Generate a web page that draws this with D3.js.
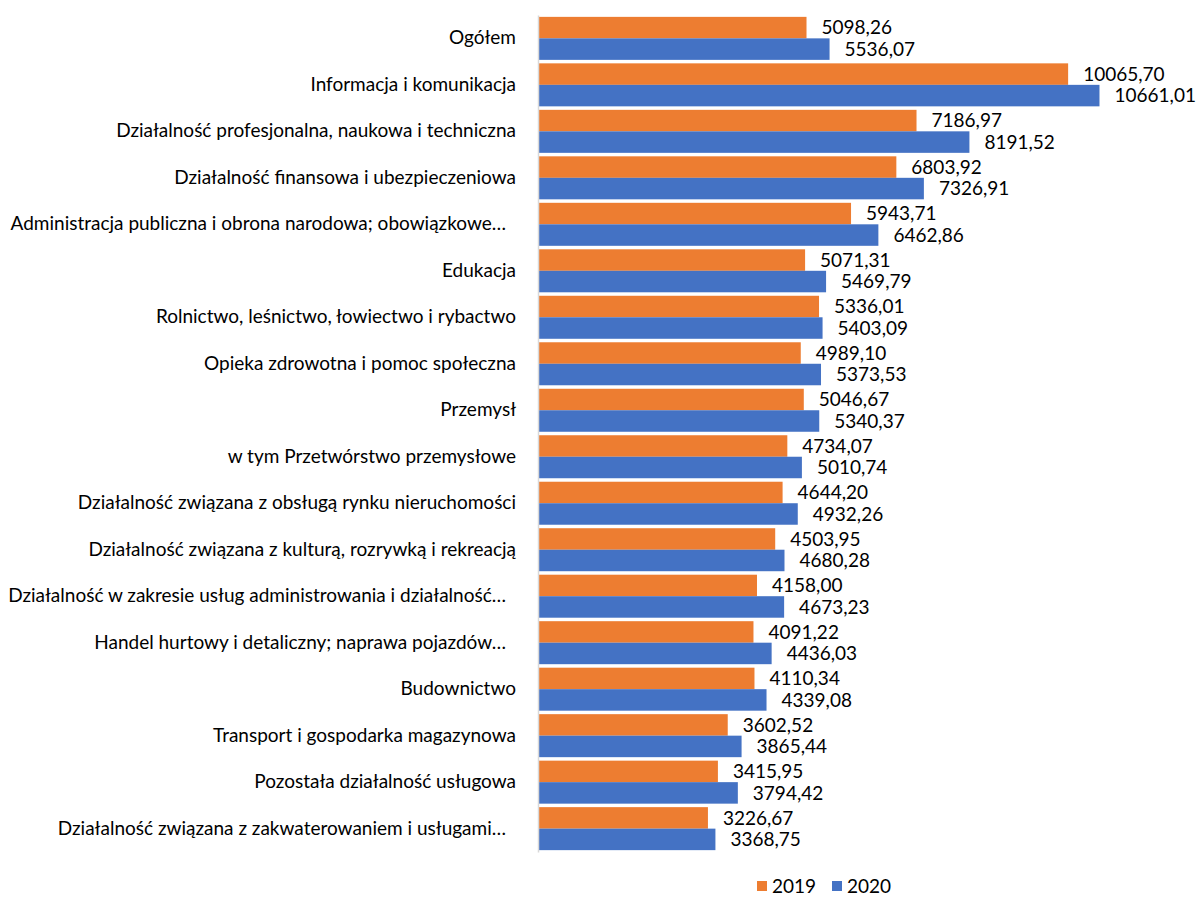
<!DOCTYPE html>
<html><head><meta charset="utf-8">
<script src="https://cdn.jsdelivr.net/npm/d3@7"></script>
<style>body{margin:0;background:#fff}svg{display:block}text{font-family:Lato,"Noto Sans",sans-serif;fill:#000}</style>
</head><body><svg id="c" width="1196" height="897"></svg>
<script>
const categories = [
 "Ogółem","Informacja i komunikacja","Działalność profesjonalna, naukowa i techniczna",
 "Działalność finansowa i ubezpieczeniowa","Administracja publiczna i obrona narodowa; obowiązkowe…",
 "Edukacja","Rolnictwo, leśnictwo, łowiectwo i rybactwo","Opieka zdrowotna i pomoc społeczna",
 "Przemysł","w tym Przetwórstwo przemysłowe","Działalność związana z obsługą rynku nieruchomości",
 "Działalność związana z kulturą, rozrywką i rekreacją","Działalność w zakresie usług administrowania i działalność…",
 "Handel hurtowy i detaliczny; naprawa pojazdów…","Budownictwo","Transport i gospodarka magazynowa",
 "Pozostała działalność usługowa","Działalność związana z zakwaterowaniem i usługami…"];
const values2019 = [5098.26,10065.70,7186.97,6803.92,5943.71,5071.31,5336.01,4989.10,5046.67,4734.07,4644.20,4503.95,4158.00,4091.22,4110.34,3602.52,3415.95,3226.67];
const values2020 = [5536.07,10661.01,8191.52,7326.91,6462.86,5469.79,5403.09,5373.53,5340.37,5010.74,4932.26,4680.28,4673.23,4436.03,4339.08,3865.44,3794.42,3368.75];
const seriesNames = ["2019","2020"];
const colors = ["#ED7D31","#4472C4"];

const svg = d3.select("#c");
const x = d3.scaleLinear().domain([0,12000]).range([538,1170]);
const y = d3.scaleBand().domain(categories).range([15,852]).paddingInner(0.075).paddingOuter(0.04);
const ys = d3.scaleBand().domain(seriesNames).range([0,y.bandwidth()]).padding(0);
const fmt = v => v.toFixed(2).replace(".", ",");

const rows = categories.map((c,i)=>({c, vals:[values2019[i],values2020[i]]}));
const g = svg.append("g").selectAll("g").data(rows).join("g").attr("transform",d=>`translate(0,${y(d.c)})`);
g.selectAll("rect").data(d=>d.vals.map((v,k)=>({v,k}))).join("rect")
 .attr("x",x(0)).attr("y",d=>ys(seriesNames[d.k])).attr("width",d=>x(d.v)-x(0))
 .attr("height",ys.bandwidth()).attr("fill",d=>colors[d.k]);
g.selectAll("text").data(d=>d.vals.map((v,k)=>({v,k}))).join("text")
 .attr("x",d=>x(d.v)+15).attr("y",d=>ys(seriesNames[d.k])+ys.bandwidth()/2).attr("dy","0.36em")
 .style("font-size","19px").text(d=>fmt(d.v));

const ax = svg.append("g").attr("transform",`translate(${x(0)},0)`)
 .call(d3.axisLeft(y).tickSize(0).tickPadding(22));
ax.select(".domain").attr("stroke","#d9d9d9").attr("stroke-width",1.5);
ax.selectAll(".tick text").style("font-size","19px").style("font-family","Lato,'Noto Sans',sans-serif").attr("fill","#000")
 .attr("dx", d => d.endsWith("…") ? -10 : 0);

const leg = svg.append("g").selectAll("g").data(seriesNames).join("g")
 .attr("transform",(d,i)=>`translate(${757+i*75},0)`);
leg.append("rect").attr("x",0).attr("y",881).attr("width",10).attr("height",10).attr("fill",(d,i)=>colors[i]);
leg.append("text").attr("x",15).attr("y",886).attr("dy","0.36em").style("font-size","19px").text(d=>d);
</script></body></html>
